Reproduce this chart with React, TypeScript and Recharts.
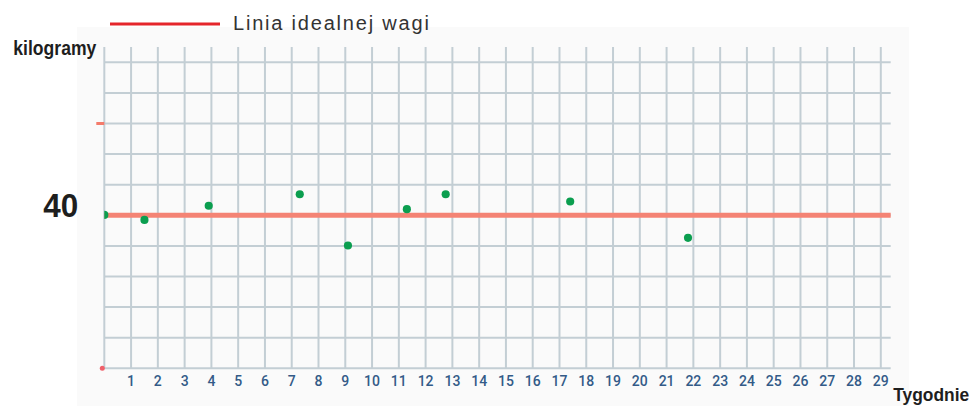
import React from 'react';
import {
  ComposedChart,
  Scatter,
  XAxis,
  YAxis,
  ZAxis,
  CartesianGrid,
  ReferenceLine,
  Legend,
} from 'recharts';

// ---- data ----
const weeks = [0, 1.5, 3.9, 7.3, 9.1, 11.3, 12.75, 17.4, 21.8];
const weights = [40.1, 38.8, 42.5, 45.5, 32.1, 41.6, 45.5, 43.6, 34.1];
const idealWeight = 40;
const xTicks = Array.from({ length: 30 }, (_, i) => i);
const yTicks = [0, 8, 16, 24, 32, 40, 48, 56, 64, 72, 80];
const markedTick = 64;
const legendLabel = 'Linia idealnej wagi';
const yTitle = 'kilogramy';
const xTitle = 'Tygodnie';

const points = weeks.map((w, i) => ({ week: w, kg: weights[i] }));

const boldFont = "'Liberation Sans', Arial, sans-serif";

const YTick = (props: any) => {
  const { x, y, payload } = props;
  const v = payload.value;
  if (v === idealWeight) {
    return (
      <text
        x={x - 53}
        y={y + 2}
        textLength={35}
        lengthAdjust="spacingAndGlyphs"
        fontFamily={boldFont}
        fontWeight={700}
        fontSize={33}
        fill="#1e1e1e"
      >
        {v}
      </text>
    );
  }
  if (v === markedTick) {
    return <line x1={x} x2={x + 8} y1={y} y2={y} stroke="#f47b6b" strokeWidth={3} />;
  }
  if (v === 0) {
    return <circle cx={x + 6} cy={y} r={2.5} fill="#f0606a" />;
  }
  return null;
};

const XTick = (props: any) => {
  const { x, y, payload } = props;
  if (payload.value === 0) return null;
  return (
    <text
      x={x}
      y={y + 10}
      textAnchor="middle"
      fontFamily="Roboto, 'Noto Sans', sans-serif"
      fontWeight={500}
      fontSize={14}
      fill="#335b88"
    >
      {payload.value}
    </text>
  );
};

const renderLegend = () => (
  <svg width={973} height={40} style={{ display: 'block' }}>
    <line x1={110} x2={220} y1={24} y2={24} stroke="#e5262b" strokeWidth={3} />
    <text
      x={233}
      y={30}
      fontFamily="'Liberation Sans', Arial, sans-serif"
      fontSize={20}
      letterSpacing={1.8}
      fill="#333"
    >
      {legendLabel}
    </text>
  </svg>
);

export default function App() {
  return (
    <div style={{ position: 'fixed', left: 0, top: 0, width: 973, height: 406, background: '#ffffff' }}>
      <div
        style={{
          position: 'absolute',
          left: 77,
          top: 27,
          width: 832,
          height: 379,
          background: '#fafafa',
        }}
      />
      <div style={{ position: 'absolute', left: 0, top: 0 }}>
        <ComposedChart
          width={973}
          height={406}
          data={points}
          margin={{ top: 7, right: 82.3, left: 0, bottom: 0 }}
        >
          <CartesianGrid
            stroke="#c3ced4"
            strokeWidth={2}
            fill="none"
            horizontalValues={yTicks}
            verticalValues={xTicks}
          />
          <XAxis
            dataKey="week"
            type="number"
            domain={[0, 29.37]}
            ticks={xTicks}
            allowDataOverflow
            interval={0}
            axisLine={false}
            tickLine={false}
            height={37.7}
            tick={<XTick />}
            label={{
              content: (p: any) => {
                const vb = p.viewBox;
                return (
                  <text
                    x={vb.x + vb.width + 2.5}
                    y={401}
                    textLength={76}
                    lengthAdjust="spacingAndGlyphs"
                    fontFamily={boldFont}
                    fontWeight={700}
                    fontSize={18.5}
                    fill="#1e1e1e"
                  >
                    {xTitle}
                  </text>
                );
              },
            }}
          />
          <YAxis
            dataKey="kg"
            type="number"
            domain={[0, 84]}
            ticks={yTicks}
            allowDataOverflow
            interval={0}
            axisLine={false}
            tickLine={false}
            width={104.3}
            tick={<YTick />}
            label={{
              content: (p: any) => {
                const vb = p.viewBox;
                return (
                  <text
                    x={vb.x + 13.3}
                    y={vb.y + 8}
                    textLength={83}
                    lengthAdjust="spacingAndGlyphs"
                    fontFamily={boldFont}
                    fontWeight={700}
                    fontSize={21}
                    fill="#1e1e1e"
                  >
                    {yTitle}
                  </text>
                );
              },
            }}
          />
          <ZAxis range={[52, 52]} />
          <Legend
            verticalAlign="top"
            height={40}
            content={renderLegend}
            wrapperStyle={{ position: 'absolute', left: 0, top: 0, width: 973, height: 40 }}
          />
          <ReferenceLine y={idealWeight} stroke="#f48374" strokeWidth={5} />
          <Scatter dataKey="kg" fill="#0b9e4f" isAnimationActive={false} />
        </ComposedChart>
      </div>
    </div>
  );
}
